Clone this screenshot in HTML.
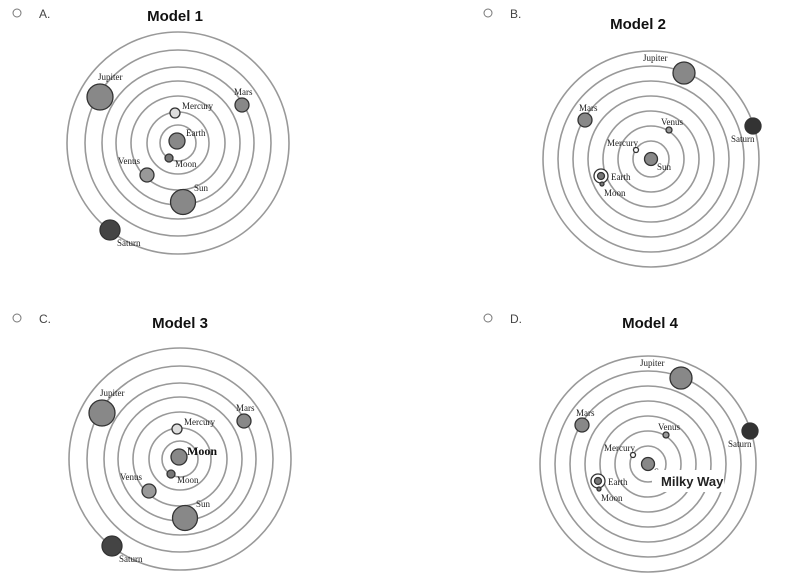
<!DOCTYPE html><html><head><style>body{margin:0;background:#fff}svg{display:block}</style></head><body>
<svg width="806" height="580" viewBox="0 0 806 580" xmlns="http://www.w3.org/2000/svg">
<defs>
<g id="m1">
<g fill="none" stroke="#999" stroke-width="1.6">
<circle cx="178" cy="143" r="18"/><circle cx="178" cy="143" r="31"/><circle cx="178" cy="143" r="47"/><circle cx="178" cy="143" r="62"/><circle cx="178" cy="143" r="76"/><circle cx="178" cy="143" r="93"/><circle cx="178" cy="143" r="111"/>
</g>
<g stroke="#333" stroke-width="1.3">
<circle cx="100" cy="97" r="13" fill="#888"/><circle cx="242" cy="105" r="7" fill="#888"/><circle cx="175" cy="113" r="5" fill="#ddd"/>
<circle cx="169" cy="158" r="4" fill="#777"/><circle cx="147" cy="175" r="7" fill="#999"/><circle cx="183" cy="202" r="12.5" fill="#888"/><circle cx="110" cy="230" r="10" fill="#444"/>
</g>
<g font-family="Liberation Serif,serif" font-size="9" fill="#222">
<text x="98" y="80">Jupiter</text><text x="234" y="95">Mars</text><text x="182" y="109">Mercury</text>
<text x="175" y="167">Moon</text><text x="118" y="164">Venus</text><text x="194" y="191">Sun</text><text x="117" y="246">Saturn</text>
</g>
</g>
<g id="m2">
<g fill="none" stroke="#999" stroke-width="1.6">
<circle cx="651" cy="159" r="18"/><circle cx="651" cy="159" r="33"/><circle cx="651" cy="159" r="48"/><circle cx="651" cy="159" r="63"/><circle cx="651" cy="159" r="78"/><circle cx="651" cy="159" r="93"/><circle cx="651" cy="159" r="108"/>
</g>
<g stroke="#333" stroke-width="1.3">
<circle cx="684" cy="73" r="11" fill="#888"/><circle cx="585" cy="120" r="7" fill="#888"/><circle cx="669" cy="130" r="3" fill="#999"/><circle cx="753" cy="126" r="8" fill="#333"/>
<circle cx="636" cy="150" r="2.5" fill="#fff"/><circle cx="651" cy="159" r="6.5" fill="#888"/><circle cx="601" cy="176" r="7" fill="#fff"/><circle cx="601" cy="176" r="3.5" fill="#777"/><circle cx="602" cy="184" r="2" fill="#777"/>
</g>
<g font-family="Liberation Serif,serif" font-size="9" fill="#222">
<text x="643" y="61">Jupiter</text><text x="579" y="111">Mars</text><text x="661" y="125">Venus</text><text x="731" y="142">Saturn</text>
<text x="607" y="146">Mercury</text><text x="657" y="170">Sun</text><text x="611" y="180">Earth</text><text x="604" y="196">Moon</text>
</g>
</g>
</defs>
<g font-family="Liberation Sans,sans-serif">
<circle cx="17" cy="13" r="4" fill="none" stroke="#777"/><text x="39" y="18" font-size="12" fill="#444">A.</text>
<circle cx="488" cy="13" r="4" fill="none" stroke="#777"/><text x="510" y="18" font-size="12" fill="#444">B.</text>
<circle cx="17" cy="318" r="4" fill="none" stroke="#777"/><text x="39" y="323" font-size="12" fill="#444">C.</text>
<circle cx="488" cy="318" r="4" fill="none" stroke="#777"/><text x="510" y="323" font-size="12" fill="#444">D.</text>
<g font-weight="bold" font-size="15" fill="#111" text-anchor="middle">
<text x="175" y="21">Model 1</text><text x="638" y="29">Model 2</text><text x="180" y="328">Model 3</text><text x="650" y="328">Model 4</text>
</g>
</g>
<use href="#m1"/>
<g stroke="#333" stroke-width="1.3"><circle cx="177" cy="141" r="8" fill="#888"/></g>
<text x="186" y="136" font-family="Liberation Serif,serif" font-size="9" fill="#222">Earth</text>
<use href="#m2"/>
<g transform="translate(2,316)"><use href="#m1"/><circle cx="177" cy="141" r="8" fill="#888" stroke="#333" stroke-width="1.3"/></g>
<text x="187" y="455" font-family="Liberation Serif,serif" font-size="12" font-weight="bold" fill="#111">Moon</text>
<g transform="translate(-3,305)"><use href="#m2"/></g>
<rect x="652" y="470" width="72" height="22" fill="#fff"/>
<text x="661" y="486" font-family="Liberation Sans,sans-serif" font-size="13" font-weight="bold" fill="#222">Milky Way</text>
</svg>
</body></html>
